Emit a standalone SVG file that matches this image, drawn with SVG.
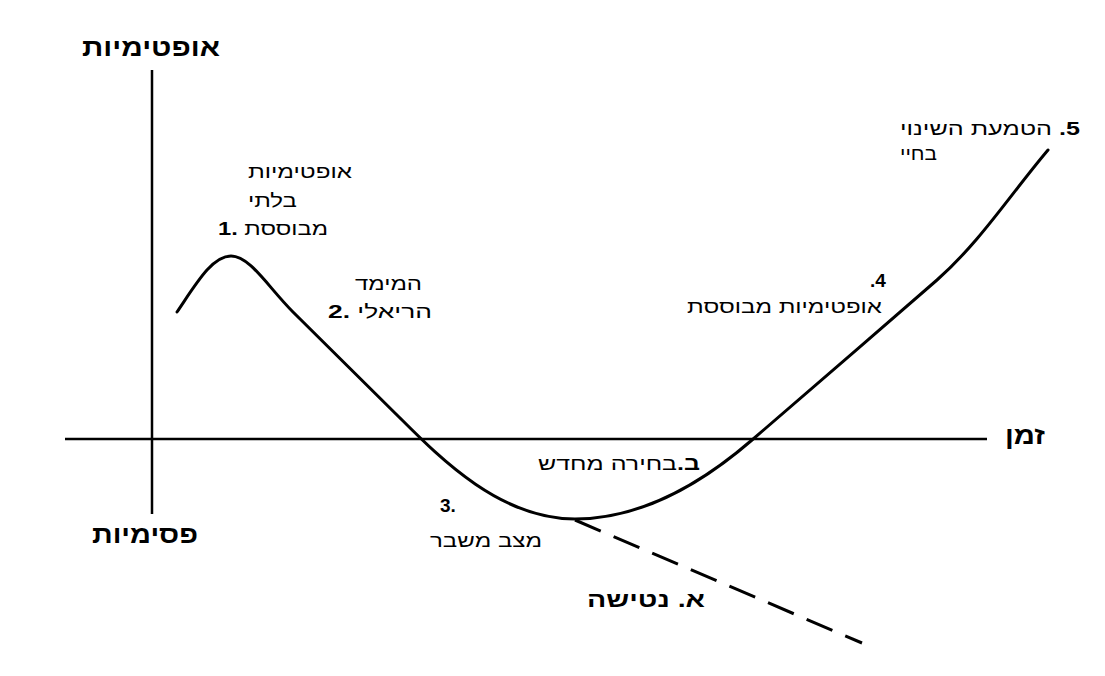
<svg xmlns="http://www.w3.org/2000/svg" width="1105" height="676" viewBox="0 0 1105 676">
<style>
  text { font-family: "Liberation Sans", "DejaVu Sans", sans-serif; fill: #000; }
  .lbl { font-size: 19px; }
  .ax { font-size: 25px; font-weight: bold; }
  .big { font-size: 22px; font-weight: bold; }
  .b { font-weight: bold; }
  .axis { stroke: #000; stroke-width: 2.5; fill: none; }
  .curve { stroke: #000; stroke-width: 3; fill: none; stroke-linejoin: round; stroke-linecap: round; }
  .dash { stroke: #000; stroke-width: 3; fill: none; stroke-dasharray: 28 14; }
</style>
<rect width="1105" height="676" fill="#fff"/>
<g id="connectors">
  <line class="axis" x1="152" y1="70" x2="152" y2="514"/>
  <line class="axis" x1="65" y1="439" x2="987" y2="439"/>
  <path class="curve" d="M177,312 C196,284 212,256 231,256 C250,256 268,287 293,312 L400,418 C440,458 500,519 575,519 C640,519 700,485 752,440 C800,398 880,330 937,280 C980,242 1010,195 1048,150"/>
  <line class="dash" x1="575" y1="520" x2="862" y2="643"/>
</g>
<g id="axis-optimism"><text class="ax" x="151" y="56" text-anchor="middle" textLength="138" lengthAdjust="spacingAndGlyphs">אופטימיות</text></g>
<g id="axis-pessimism"><text class="ax" x="145" y="543" text-anchor="middle" textLength="106" lengthAdjust="spacingAndGlyphs">פסימיות</text></g>
<g id="axis-time"><text class="ax" x="1025" y="444" text-anchor="middle" textLength="40" lengthAdjust="spacingAndGlyphs">זמן</text></g>
<g id="node1">
  <text class="lbl" x="300" y="178" text-anchor="middle" textLength="104" lengthAdjust="spacingAndGlyphs">אופטימיות</text>
  <text class="lbl" x="272.5" y="207" text-anchor="middle" textLength="49" lengthAdjust="spacingAndGlyphs">בלתי</text>
  <text class="lbl" x="273" y="235" text-anchor="middle" direction="ltr" textLength="110" lengthAdjust="spacingAndGlyphs"><tspan class="b">1.</tspan> מבוססת</text>
</g>
<g id="node2">
  <text class="lbl" x="388.5" y="290" text-anchor="middle" textLength="67" lengthAdjust="spacingAndGlyphs">המימד</text>
  <text class="lbl" x="380" y="318" text-anchor="middle" direction="ltr" textLength="104" lengthAdjust="spacingAndGlyphs"><tspan class="b">2.</tspan> הריאלי</text>
</g>
<g id="node3">
  <text class="lbl b" x="440" y="512">3.</text>
  <text class="lbl" x="486" y="547" text-anchor="middle" textLength="112" lengthAdjust="spacingAndGlyphs">מצב משבר</text>
</g>
<g id="node4">
  <text class="lbl b" x="878" y="287" text-anchor="middle" direction="rtl">4.</text>
  <text class="lbl" x="784.5" y="313" text-anchor="middle" textLength="195" lengthAdjust="spacingAndGlyphs">אופטימיות מבוססת</text>
</g>
<g id="node5">
  <text class="lbl" x="990" y="135" text-anchor="middle" direction="rtl" textLength="180" lengthAdjust="spacingAndGlyphs"><tspan class="b">5.</tspan> הטמעת השינוי</text>
  <text class="lbl" x="918.5" y="160" text-anchor="middle" textLength="37" lengthAdjust="spacingAndGlyphs">בחיי</text>
</g>
<g id="nodeB">
  <text class="lbl" x="619" y="470" text-anchor="middle" direction="rtl" textLength="162" lengthAdjust="spacingAndGlyphs"><tspan class="b">ב.</tspan>בחירה מחדש</text>
</g>
<g id="nodeA">
  <text class="big" x="646" y="607" text-anchor="middle" direction="rtl" textLength="118" lengthAdjust="spacingAndGlyphs">א. נטישה</text>
</g>
</svg>
